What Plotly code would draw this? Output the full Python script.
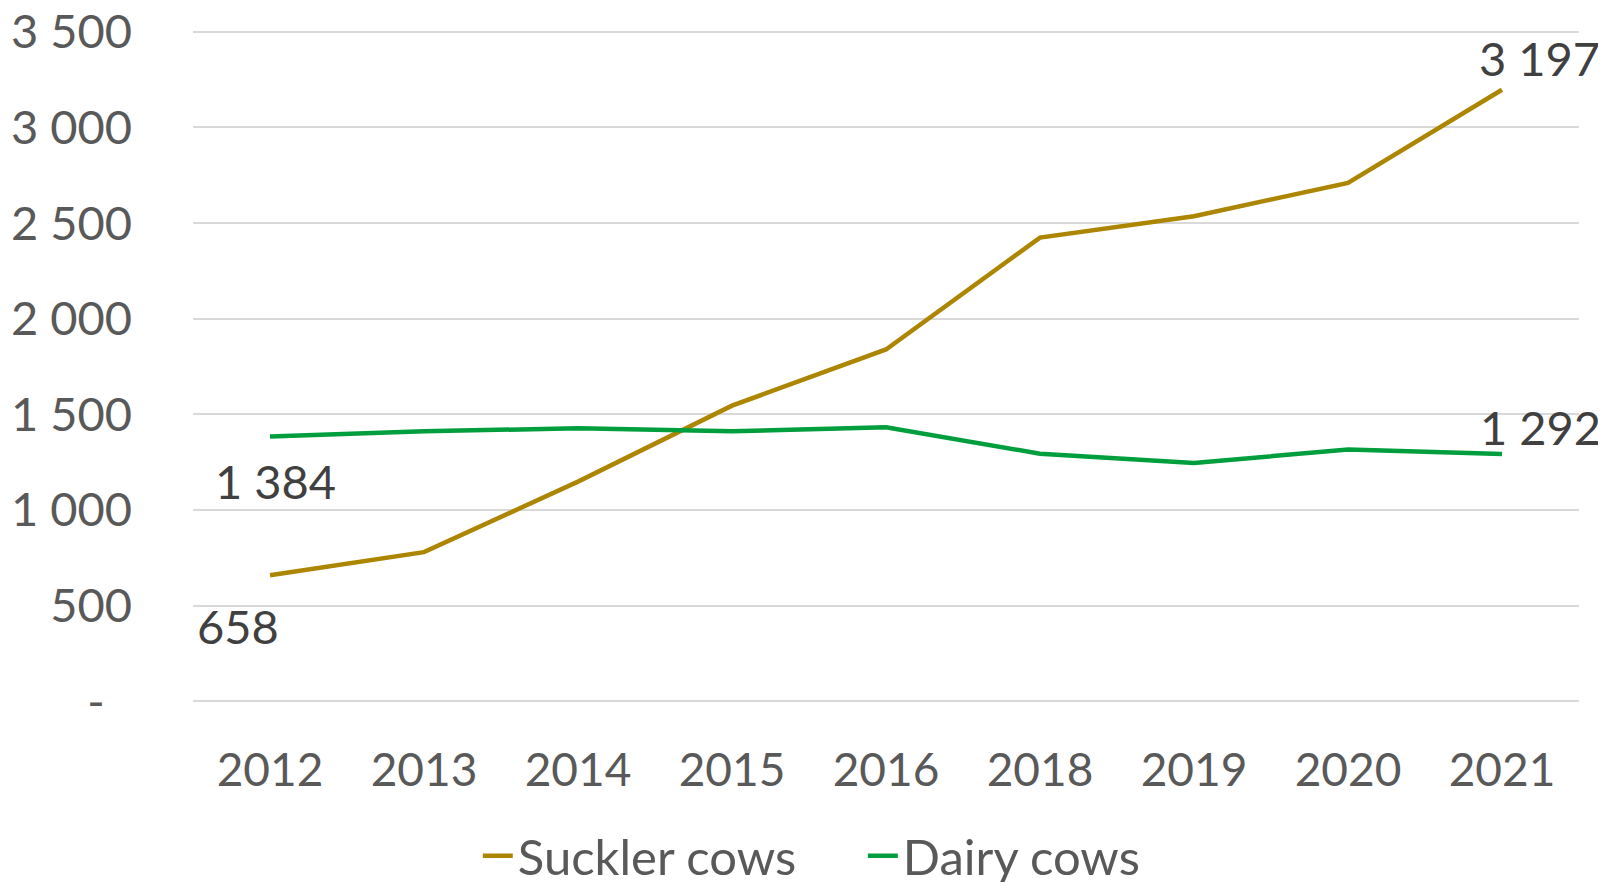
import plotly.graph_objects as go

years = ["2012", "2013", "2014", "2015", "2016", "2018", "2019", "2020", "2021"]
suckler = [658, 779, 1148, 1545, 1839, 2424, 2536, 2710, 3197]
dairy = [1384, 1411, 1427, 1411, 1432, 1294, 1245, 1316, 1292]

y_tickvals = [0, 500, 1000, 1500, 2000, 2500, 3000, 3500]
y_ticktext = ["-\u2007", "500", "1 000", "1 500", "2 000", "2 500", "3 000", "3 500"]

def fmt(v):
    return f"{v:,}".replace(",", " ")

SUCK_COL = "#AC8600"
DAIRY_COL = "#009E3D"
FONT = "Lato"

xpos = list(range(len(years)))

fig = go.Figure()
fig.add_trace(go.Scatter(x=xpos, y=suckler, mode="lines", name="Suckler cows",
                         line=dict(color=SUCK_COL, width=4.5)))
fig.add_trace(go.Scatter(x=xpos, y=dairy, mode="lines", name="Dairy cows",
                         line=dict(color=DAIRY_COL, width=4.5)))

label_font = dict(family=FONT, size=47, color="#404040")
ann = [
    dict(x=xpos[0], y=suckler[0], text=fmt(suckler[0]), xshift=-32, yshift=-51),
    dict(x=xpos[0], y=dairy[0], text=fmt(dairy[0]), xshift=5, yshift=-45),
    dict(x=xpos[-1], y=suckler[-1], text=fmt(suckler[-1]), xshift=37, yshift=32),
    dict(x=xpos[-1], y=dairy[-1], text=fmt(dairy[-1]), xshift=38, yshift=27),
]
for a in ann:
    fig.add_annotation(xref="x", yref="y", showarrow=False, font=label_font,
                       xanchor="center", yanchor="middle", **a)

fig.update_layout(
    width=1598, height=874,
    margin=dict(l=185, r=27, t=19.7, b=178.1),
    paper_bgcolor="white", plot_bgcolor="white",
    font=dict(family=FONT, color="#595959"),
    showlegend=True,
    legend=dict(orientation="h", xref="container", yref="container",
                x=0.294, xanchor="left", y=0.03, yanchor="middle",
                font=dict(family=FONT, size=49, color="#595959"),
                itemwidth=30, entrywidth=340),
    xaxis=dict(range=[-0.5, len(years) - 0.5], tickvals=xpos, ticktext=years,
               showgrid=False, showline=False, zeroline=False, automargin=False,
               ticks="", tickfont=dict(family=FONT, size=46, color="#595959"),
               ticklabelstandoff=35, ticklabeloverflow="allow"),
    yaxis=dict(range=[-15, 3520], tickvals=y_tickvals, ticktext=y_ticktext,
               showgrid=True, gridcolor="#D9D9D9", gridwidth=2, automargin=False,
               zeroline=False, showline=False, ticks="",
               tickfont=dict(family=FONT, size=47, color="#595959"),
               ticklabelstandoff=60, ticklabeloverflow="allow"),
)

fig.write_html("out.html")
